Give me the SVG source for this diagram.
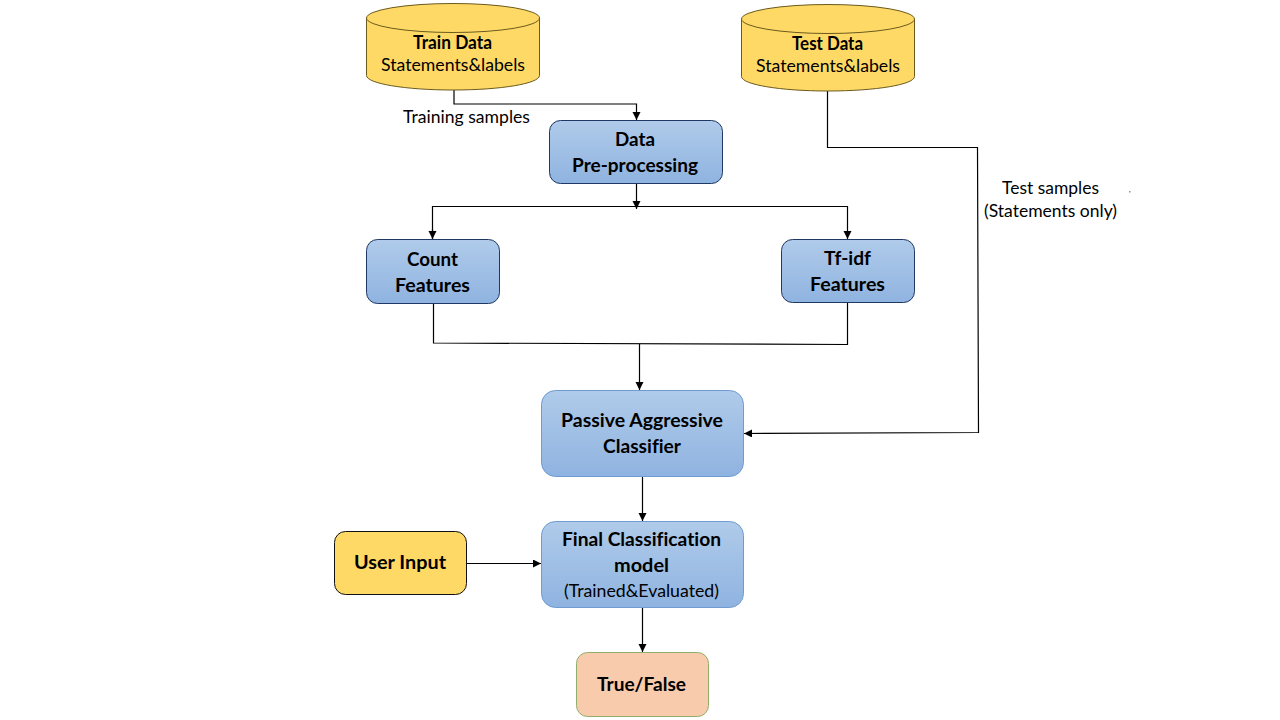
<svg xmlns="http://www.w3.org/2000/svg" width="1280" height="720" viewBox="0 0 1280 720">
<defs>
<linearGradient id="blue" x1="0" y1="0" x2="0" y2="1"><stop offset="0" stop-color="#b0cbea"/><stop offset="1" stop-color="#8fb3e0"/></linearGradient>
<marker id="arr" markerUnits="userSpaceOnUse" markerWidth="9" markerHeight="9" refX="8" refY="4" orient="auto"><path d="M0 0L8 4L0 8Z" fill="#000"/></marker>
</defs>
<style>
text{font-family:Lato,"Noto Sans","Liberation Sans",sans-serif;fill:#000;font-size:18px;font-variant-ligatures:none}
.b{font-weight:700}
.n{stroke:#1f3864;stroke-width:1;fill:url(#blue)}
.l{stroke:#6f9bd1;stroke-width:1;fill:url(#blue)}
.y{fill:#ffd966;stroke:#6b5a1e;stroke-width:1}
.c{fill:none;stroke:#000;stroke-width:1.2}
</style>
<rect width="1280" height="720" fill="#fff"/>
<g id="connectors">
<path class="c" d="M454 90V104H636.500V120" marker-end="url(#arr)"/>
<path class="c" d="M636.500 184V209" marker-end="url(#arr)"/>
<path class="c" d="M432.500 239V206.500H847.500V239" marker-end="url(#arr)"/>
<path class="c" d="M432.500 229V239" marker-end="url(#arr)"/>
<path class="c" d="M433.500 304V343L847.500 344.500V303"/>
<path class="c" d="M639.500 344V390" marker-end="url(#arr)"/>
<path class="c" d="M827.500 91V147.500H977.500L978.500 432.500L744 433.500" marker-end="url(#arr)"/>
<path class="c" d="M642.500 477V521" marker-end="url(#arr)"/>
<path class="c" d="M467 563.500H541" marker-end="url(#arr)"/>
<path class="c" d="M642.500 608V652" marker-end="url(#arr)"/>
</g>
<g id="train-data">
<path class="y" d="M366.500 18V75.500C366.500 83.500 405 90 453 90S539.500 83.500 539.500 75.500V18Z"/>
<ellipse class="y" cx="453" cy="18" rx="86.500" ry="14.500"/>
<text class="b" x="413" y="49" font-size="17" textLength="79" lengthAdjust="spacingAndGlyphs">Train Data</text>
<text x="381" y="71" textLength="144" lengthAdjust="spacingAndGlyphs">Statements&amp;labels</text>
</g>
<g id="test-data">
<path class="y" d="M741.500 19V76.500C741.500 84.500 780 91 828 91S914.500 84.500 914.500 76.500V19Z"/>
<ellipse class="y" cx="828" cy="19" rx="86.500" ry="14.500"/>
<text class="b" x="792" y="50" font-size="17" textLength="71" lengthAdjust="spacingAndGlyphs">Test Data</text>
<text x="756" y="72" textLength="144" lengthAdjust="spacingAndGlyphs">Statements&amp;labels</text>
</g>
<g id="training-label"><text x="403" y="123" textLength="127" lengthAdjust="spacingAndGlyphs">Training samples</text></g>
<g id="test-label">
<text x="1002" y="194" textLength="97" lengthAdjust="spacingAndGlyphs">Test samples</text>
<text x="984" y="217" textLength="133" lengthAdjust="spacingAndGlyphs">(Statements only)</text>
<rect x="1129" y="191" width="1.500" height="1.500" fill="#8a93a8"/>
</g>
<g id="preprocessing">
<rect class="n" x="549.500" y="120.500" width="173" height="63" rx="11"/>
<text class="b" x="615" y="146" font-size="19" textLength="40" lengthAdjust="spacingAndGlyphs">Data</text>
<text class="b" x="572" y="172" font-size="19" textLength="126" lengthAdjust="spacingAndGlyphs">Pre-processing</text>
</g>
<g id="count-features">
<rect class="n" x="366.500" y="239.500" width="133" height="64" rx="11"/>
<text class="b" x="407" y="266" font-size="19" textLength="51" lengthAdjust="spacingAndGlyphs">Count</text>
<text class="b" x="395" y="292" font-size="19" textLength="75" lengthAdjust="spacingAndGlyphs">Features</text>
</g>
<g id="tfidf-features">
<rect class="n" x="781.500" y="239.500" width="133" height="63" rx="11"/>
<text class="b" x="824" y="265" font-size="19" textLength="47" lengthAdjust="spacingAndGlyphs">Tf-idf</text>
<text class="b" x="810" y="291" font-size="19" textLength="75" lengthAdjust="spacingAndGlyphs">Features</text>
</g>
<g id="classifier">
<rect class="l" x="541.500" y="390.500" width="202" height="86" rx="14"/>
<text class="b" x="561" y="427" font-size="19" textLength="162" lengthAdjust="spacingAndGlyphs">Passive Aggressive</text>
<text class="b" x="603" y="453" font-size="19" textLength="78" lengthAdjust="spacingAndGlyphs">Classifier</text>
</g>
<g id="final-model">
<rect class="l" x="541.500" y="521.500" width="202" height="86" rx="14"/>
<text class="b" x="562" y="546" font-size="19" textLength="159" lengthAdjust="spacingAndGlyphs">Final Classification</text>
<text class="b" x="614" y="572" font-size="19" textLength="55" lengthAdjust="spacingAndGlyphs">model</text>
<text x="564" y="597" textLength="155" lengthAdjust="spacingAndGlyphs">(Trained&amp;Evaluated)</text>
</g>
<g id="user-input">
<rect class="y" x="334.500" y="531.500" width="132" height="63" rx="11" style="stroke:#111"/>
<text class="b" x="354" y="569" font-size="19" textLength="92" lengthAdjust="spacingAndGlyphs">User Input</text>
</g>
<g id="result">
<rect x="576.500" y="652.500" width="132" height="64" rx="11" fill="#f8cbad" stroke="#8fae6b"/>
<text class="b" x="597" y="691" font-size="19" textLength="89" lengthAdjust="spacingAndGlyphs">True/False</text>
</g>
</svg>
